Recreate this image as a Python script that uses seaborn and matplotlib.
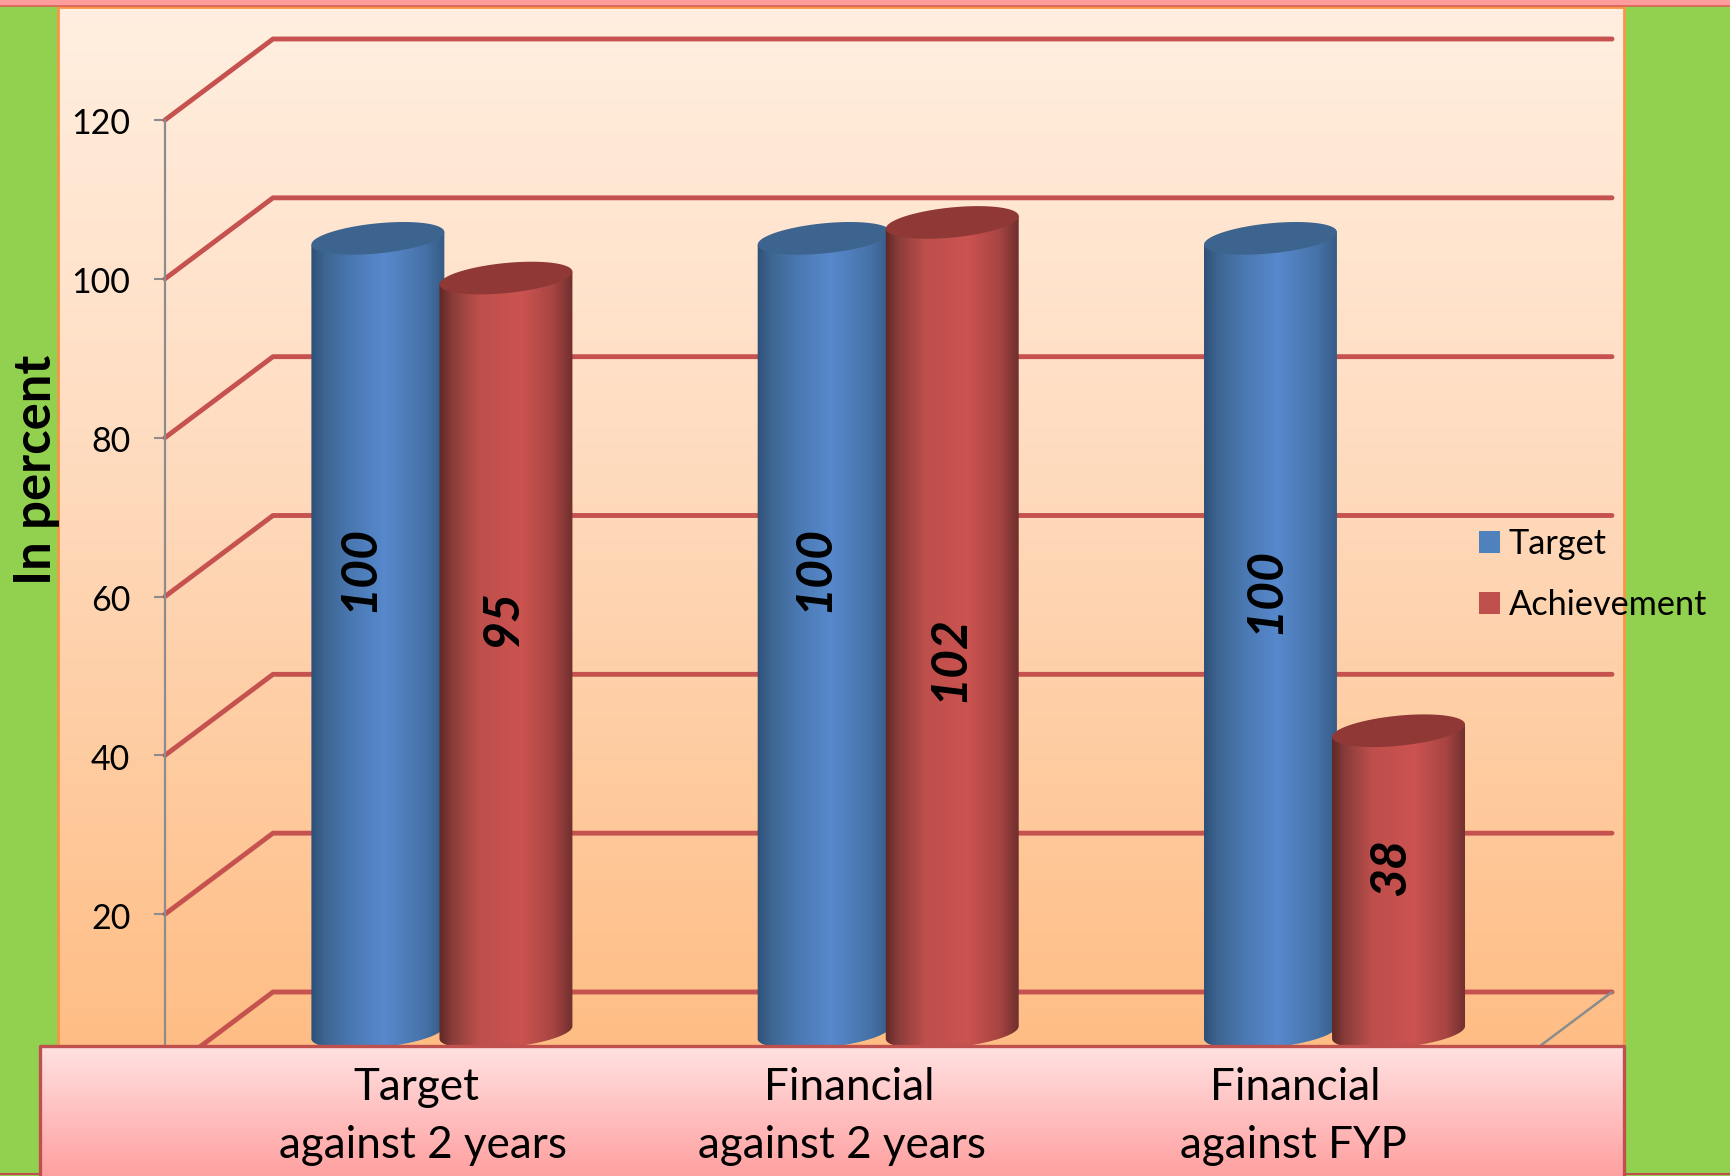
import numpy as np
import pandas as pd
import seaborn as sns
import matplotlib.pyplot as plt
from matplotlib.colors import LinearSegmentedColormap
from matplotlib.patches import PathPatch, Rectangle
from matplotlib.path import Path
from matplotlib.transforms import ScaledTranslation

categories = ["Target against 2 years", "Financial against 2 years", "Financial against FYP"]
target = [100, 100, 100]
achievement = [95, 102, 38]
yticks = [20, 40, 60, 80, 100, 120]
xlabels = [["Target", "against 2 years"], ["Financial", "against 2 years"], ["Financial", "against FYP"]]

# hand placed text, in pixels of the picture
xlabel_x = [[416, 423], [849, 842], [1295, 1293]]
value_y = [[63.5, 63.5, 60.7], [57.3, 52.2, 26.0]]
value_dx = [[-17, -9, -5], [-4, -3, -7]]

W, H = 1730, 1176
LEFT, RIGHT, TOP, BOTTOM = 165, 1504, 120, 1073
DEPTH = 10.2
DEPTH_X = 108

sns.set_style("white")
plt.rcParams["font.family"] = ["Lato", "DejaVu Sans"]
plt.rcParams["text.color"] = "black"

fig = plt.figure(figsize=(W / 100, H / 100), dpi=100, facecolor="#92D050")


def gradient(axes, colors, box, horizontal=False, **kw):
    cmap = LinearSegmentedColormap.from_list("g", colors)
    g = np.linspace(0, 1, 256)
    g = g.reshape(1, -1) if horizontal else g.reshape(-1, 1)
    return axes.imshow(g, cmap=cmap, extent=box, aspect="auto", origin="upper", vmin=0, vmax=1, **kw)


# background panel, behind the chart
bg = fig.add_axes([0, 0, 1, 1], zorder=0)
bg.set_xlim(0, W)
bg.set_ylim(H, 0)
bg.axis("off")
bg.set_autoscale_on(False)
bg.add_patch(Rectangle((0, 0), W, 6, fc="#FF9C9C", ec="none"))
bg.plot([0, W], [6, 6], color="#D9615E", lw=1.2)
gradient(bg, [(0, "#FFEFE0"), (0.4, "#FFDDC2"), (1, "#FEBD84")], [58, 1624, 1050, 7])
bg.add_patch(Rectangle((58, 7), 1566, 1043, fc="none", ec="#F79646", lw=2))
bg.plot([0, W], [1174, 1174], color="#C0504D", lw=1.5)

# chart
ax = fig.add_axes([LEFT / W, 1 - BOTTOM / H, (RIGHT - LEFT) / W, (BOTTOM - TOP) / H], zorder=1)
ax.set_facecolor("none")

df = pd.DataFrame({
    "category": categories * 2,
    "series": ["Target"] * 3 + ["Achievement"] * 3,
    "value": target + achievement,
})
sns.barplot(data=df, x="category", y="value", hue="series", palette=["#4F81BD", "#C0504D"],
            width=0.574, gap=0, saturation=1, ax=ax)

xlim = ((LEFT - 441.9) / 446.3, (RIGHT - 441.9) / 446.3)
ax.set_xlim(xlim)
ax.set_ylim(0, 120)
ax.set_autoscale_on(False)
sx = (RIGHT - LEFT) / (xlim[1] - xlim[0])
sy = (BOTTOM - TOP) / 120

# wall and floor lines
xd = DEPTH_X / sx
for v in [0] + yticks:
    ax.plot([xlim[0], xlim[0] + xd, xlim[1] + xd], [v, v + DEPTH, v + DEPTH],
            color="#C5524F", lw=3.5, clip_on=False, zorder=1, solid_capstyle="round")
ax.plot([xlim[1], xlim[1] + xd], [0, DEPTH], color="#8C8C8C", lw=1.8, clip_on=False, zorder=1.2)


def ellipse_pts(cx, cy, t):
    a, b, tilt = 66.8, 15, np.radians(5.7)
    px = a * np.cos(t) * np.cos(tilt) - b * np.sin(t) * np.sin(tilt)
    py = a * np.cos(t) * np.sin(tilt) + b * np.sin(t) * np.cos(tilt)
    return cx + px / sx, cy + py / sy


shades = [
    [(0, "#2E5078"), (0.1, "#3D658F"), (0.3, "#4A78B2"), (0.55, "#5789CC"), (0.85, "#4672A8"), (1, "#365A85")],
    [(0, "#5F2725"), (0.1, "#8A3D3A"), (0.3, "#BE4F4C"), (0.62, "#CB5350"), (0.85, "#A84543"), (1, "#6F2F2D")],
]
cap_colors = ["#3D638F", "#8F3836"]

for k, cont in enumerate(ax.containers):
    for i, bar in enumerate(cont):
        bar.set_visible(False)
        cx = bar.get_x() + bar.get_width() / 2
        y0 = DEPTH / 2
        y1 = y0 + bar.get_height()
        half = 66.8 / sx
        z = 3 + k

        arc = np.linspace(np.pi, 2 * np.pi, 40)
        bx, by = ellipse_pts(cx, y0, arc)
        tx, ty = ellipse_pts(cx, y1, np.array([0, np.pi]))
        verts = list(zip(bx, by)) + [(tx[0], ty[0]), (tx[1], ty[1]), (bx[0], by[0])]
        body = Path(verts, closed=False)
        im = gradient(ax, shades[k], [cx - half, cx + half, y0 - 3, y1 + 3], horizontal=True, zorder=z)
        im.set_clip_path(PathPatch(body, transform=ax.transData))

        capx, capy = ellipse_pts(cx, y1, np.linspace(0, 2 * np.pi, 80))
        ax.fill(capx, capy, color=cap_colors[k], lw=0, zorder=z + 0.1, clip_on=False)

        ax.text(cx + value_dx[k][i] / sx * 1.1, value_y[k][i], str(int(bar.get_height())),
                rotation=90, ha="center", va="center", fontsize=36, fontweight="bold",
                fontstyle="italic", color="black", zorder=6)

# axes
sns.despine(ax=ax, top=True, right=True, bottom=True)
ax.spines["left"].set_color("#8C8C8C")
ax.spines["left"].set_linewidth(1.6)
ax.spines["left"].set_bounds(0, 120)
ax.set_xticks([])
ax.set_xlabel("")
ax.set_yticks(yticks)
ax.tick_params(axis="y", left=True, length=8, width=1.5, color="#8C8C8C", pad=17, labelsize=24.5, labelcolor="black")
for lab in ax.get_yticklabels():
    lab.set_transform(lab.get_transform() + ScaledTranslation(0, -1 / 72, fig.dpi_scale_trans))
ax.set_ylabel("In percent", fontsize=36.5, fontweight="bold", color="black", va="center")
ax.yaxis.set_label_coords((37 - LEFT) / (RIGHT - LEFT), (BOTTOM - 470) / (BOTTOM - TOP))

sns.move_legend(ax, "upper left", bbox_to_anchor=((1479 - LEFT) / (RIGHT - LEFT), (BOTTOM - 528) / (BOTTOM - TOP)),
                frameon=False, title=None, fontsize=24.7, handlelength=0.62, handleheight=0.62,
                handletextpad=0.24, labelspacing=0.85, borderpad=0, borderaxespad=0, labelcolor="black")
for handle in ax.get_legend().get_patches():
    handle.set_edgecolor("none")

# category box in front of the bars
front = fig.add_axes([0, 0, 1, 1], zorder=2)
front.set_xlim(0, W)
front.set_ylim(H, 0)
front.axis("off")
front.set_autoscale_on(False)
gradient(front, ["#FFE2E2", "#FFA0A0"], [40, 1624, H, 1046])
front.plot([40, 40, 1624, 1624], [H, 1046, 1046, H], color="#C0504D", lw=2.4)
for lines, xs in zip(xlabels, xlabel_x):
    for line, x, y in zip(lines, xs, [1088, 1146]):
        front.text(x, y, line, ha="center", va="center", fontsize=31.7, color="black")

fig.savefig("out.png", dpi=100, facecolor=fig.get_facecolor())
